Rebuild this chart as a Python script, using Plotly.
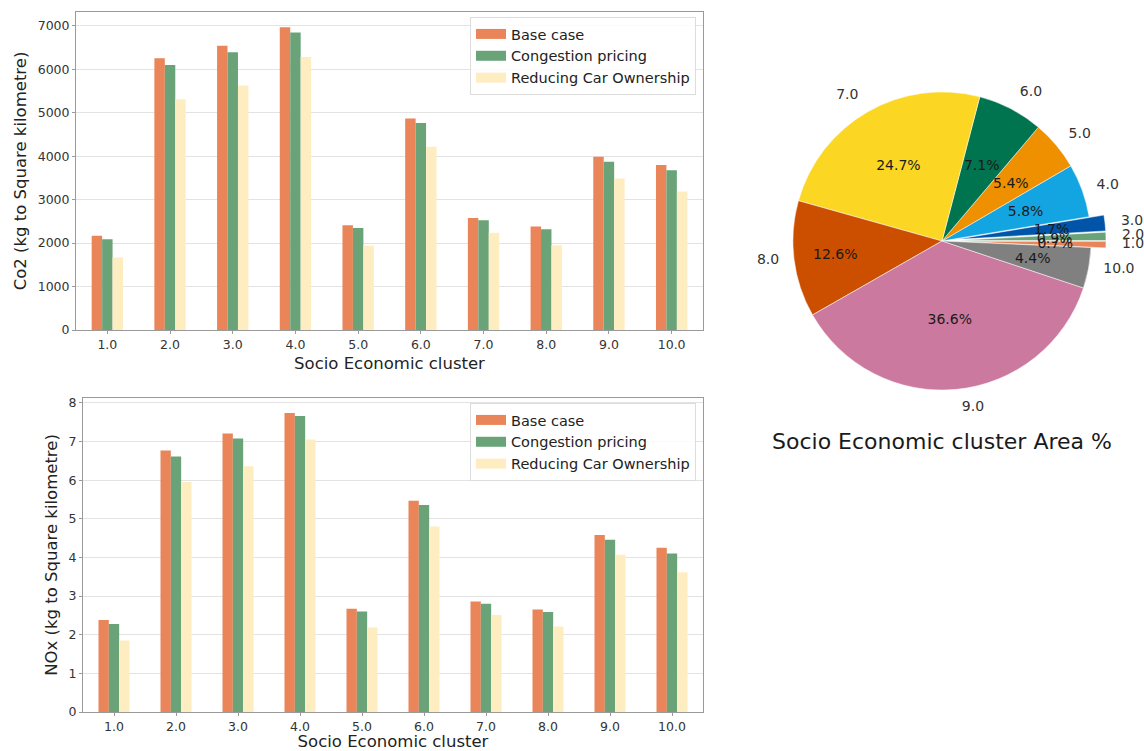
import plotly.graph_objects as go

clusters = ["1.0", "2.0", "3.0", "4.0", "5.0", "6.0", "7.0", "8.0", "9.0", "10.0"]
series_names = ["Base case", "Congestion pricing", "Reducing Car Ownership"]

co2_base = [2170, 6255, 6540, 6970, 2410, 4865, 2580, 2380, 3990, 3800]
co2_congestion = [2090, 6100, 6390, 6845, 2350, 4765, 2525, 2320, 3875, 3675]
co2_reducing = [1670, 5310, 5625, 6285, 1940, 4220, 2240, 1950, 3485, 3185]

nox_base = [2.38, 6.77, 7.21, 7.74, 2.67, 5.47, 2.86, 2.65, 4.58, 4.25]
nox_congestion = [2.28, 6.61, 7.08, 7.66, 2.60, 5.36, 2.80, 2.59, 4.46, 4.10]
nox_reducing = [1.85, 5.95, 6.36, 7.05, 2.19, 4.80, 2.51, 2.21, 4.07, 3.62]

area_pct = [0.7, 0.9, 1.7, 5.8, 5.4, 7.1, 24.7, 12.6, 36.6, 4.4]
pie_pull = [0.1, 0.1, 0.1, 0, 0, 0, 0, 0, 0, 0]

bar_colors = ["#EA855A", "#6AA378", "#FFEDC2"]
pie_colors = ["#EA855A", "#6AA378", "#0055A8", "#12A5E2", "#EE9000",
              "#00734F", "#FBD724", "#CC4F00", "#CC79A0", "#808080"]

W, H = 1144, 751
FONT = "DejaVu Sans"
CLEAR = "rgba(0,0,0,0)"

def px_x(a, b):
    return [a / W, b / W]

def px_y(top, bottom):
    return [(H - bottom) / H, (H - top) / H]

def pie_domain(cx, cy, box):
    return dict(x=px_x(cx - box / 2, cx + box / 2), y=px_y(cy - box / 2, cy + box / 2))

fig = go.Figure()

co2 = [co2_base, co2_congestion, co2_reducing]
nox = [nox_base, nox_congestion, nox_reducing]
panels = [("x", "y", "legend", co2), ("x2", "y2", "legend2", nox)]
for xa, ya, lg, data in panels:
    for i, name in enumerate(series_names):
        fig.add_trace(go.Bar(x=clusters, y=data[i], name=name, marker_color=bar_colors[i],
                             marker_line_width=0, xaxis=xa, yaxis=ya, showlegend=False))
    # legend entries drawn as wide colour patches (matplotlib style)
    for i, name in enumerate(series_names):
        fig.add_trace(go.Scatter(x=[None], y=[None], name=name, mode="lines",
                                 line=dict(color=bar_colors[i], width=10),
                                 xaxis=xa, yaxis=ya, legend=lg, hoverinfo="skip"))

PCX, PCY = 942, 241
pct_text = [f"{v:.1f}%" for v in area_pct]
big_text = [t if v >= 10 else "" for t, v in zip(pct_text, area_pct)]
small_text = [t if v < 10 else "" for t, v in zip(pct_text, area_pct)]

pie_common = dict(labels=clusters, values=area_pct, sort=False, direction="counterclockwise",
                  rotation=90, pull=pie_pull, automargin=False, showlegend=False)

# visible pie, percentages of the wide slices
fig.add_trace(go.Pie(domain=pie_domain(PCX, PCY, 328),
                     marker=dict(colors=pie_colors, line=dict(width=0.5, color="white")),
                     text=big_text, textinfo="text",
                     textposition="inside", insidetextorientation="horizontal",
                     textfont=dict(family=FONT, size=14, color="#1a1a1a"),
                     hoverinfo="label+percent", **pie_common))
# percentages of the narrow slices, drawn closer to the centre
fig.add_trace(go.Pie(domain=pie_domain(PCX, PCY, 231),
                     marker=dict(colors=[CLEAR] * len(clusters), line=dict(width=0)),
                     text=small_text, textinfo="text",
                     textposition="inside", insidetextorientation="horizontal",
                     textfont=dict(family=FONT, size=14, color="#1a1a1a"),
                     hoverinfo="skip", **pie_common))
# category labels outside the pie, one trace each so they are not pushed apart
for i in range(len(clusters)):
    lbl = [c if j == i else "" for j, c in enumerate(clusters)]
    fig.add_trace(go.Pie(domain=pie_domain(PCX, PCY - 2, 352),
                         marker=dict(colors=[CLEAR] * len(clusters), line=dict(width=0)),
                         text=lbl, textinfo="text", textposition="outside",
                         textfont=dict(family=FONT, size=14, color="#333333"),
                         hoverinfo="skip", **pie_common))

axis_common = dict(showline=True, linecolor="#9a9a9a", linewidth=1, mirror=True,
                   tickfont=dict(family=FONT, size=12.5, color="#333333"),
                   ticks="outside", ticklen=3, tickcolor="#9a9a9a", automargin=False)
title_font = dict(family=FONT, size=16.5, color="#222222")

legend_common = dict(font=dict(family=FONT, size=14.5, color="#222222"),
                     bgcolor="rgba(255,255,255,0.85)", bordercolor="#dddddd", borderwidth=1,
                     xanchor="right", yanchor="top", traceorder="normal",
                     itemwidth=30, tracegroupgap=0)

fig.update_layout(
    width=W, height=H, autosize=False, margin=dict(l=0, r=0, t=0, b=0, autoexpand=False),
    paper_bgcolor="white", plot_bgcolor="white",
    barmode="group", bargap=0.5, bargroupgap=0,
    font=dict(family=FONT, color="#222222"),
    uniformtext=dict(minsize=14, mode="show"),
    xaxis=dict(domain=px_x(76, 703), anchor="y", type="category", showgrid=False,
               title=dict(text="Socio Economic cluster", font=title_font, standoff=6),
               **axis_common),
    yaxis=dict(domain=px_y(12, 330), anchor="x", range=[0, max(co2_base) * 1.05], dtick=1000,
               showgrid=True, gridcolor="#e3e3e3", gridwidth=1, zeroline=False,
               title=dict(text="Co2 (kg to Square kilometre)", font=title_font, standoff=6),
               **axis_common),
    xaxis2=dict(domain=px_x(83, 703), anchor="y2", type="category", showgrid=False,
                title=dict(text="Socio Economic cluster", font=title_font, standoff=6),
                **axis_common),
    yaxis2=dict(domain=px_y(398, 712), anchor="x2", range=[0, max(nox_base) * 1.05], dtick=1,
                showgrid=True, gridcolor="#e3e3e3", gridwidth=1, zeroline=False,
                title=dict(text="NOx (kg to Square kilometre)", font=title_font, standoff=6),
                **axis_common),
    legend=dict(x=696 / W, y=(H - 17) / H, **legend_common),
    legend2=dict(x=696 / W, y=(H - 403) / H, **legend_common),
    annotations=[dict(text="Socio Economic cluster Area %", x=942 / W, y=(H - 442) / H,
                      xref="paper", yref="paper", xanchor="center", yanchor="middle",
                      showarrow=False, font=dict(family=FONT, size=22, color="#1a1a1a"))],
)

fig.write_html("out.html")
